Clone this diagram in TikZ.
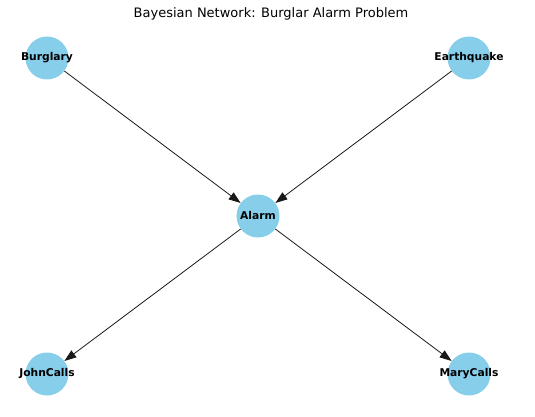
\documentclass[tikz,border=0pt]{standalone}
\usepackage{fontspec}
\setmainfont{DejaVu Sans}
\usetikzlibrary{arrows.meta}
\definecolor{skyblue}{HTML}{87CEEB}
\begin{document}
\begin{tikzpicture}[x=1pt,y=-1pt,
  bnode/.style={circle,fill=skyblue,draw=none,minimum size=43pt,inner sep=0pt,
    label={[font=\fontsize{10.7}{12}\selectfont\bfseries]center:#1}},
  edge/.style={-{Triangle[length=12pt,width=8.5pt]},line width=0.8pt,black!90}]
  \useasboundingbox (0,0) rectangle (535,417);
  \node[font=\fontsize{13}{15}\selectfont] (title) at (271,14) {Bayesian Network: Burglar Alarm Problem};
  \node[bnode=Burglary] (B) at (47,58) {};
  \node[bnode=Earthquake] (E) at (469,58) {};
  \node[bnode=Alarm] (A) at (258,216) {};
  \node[bnode=JohnCalls] (J) at (47,374) {};
  \node[bnode=MaryCalls] (M) at (469,374) {};
  \draw[edge] (B) -- (A);
  \draw[edge] (E) -- (A);
  \draw[edge] (A) -- (J);
  \draw[edge] (A) -- (M);
\end{tikzpicture}
\end{document}
